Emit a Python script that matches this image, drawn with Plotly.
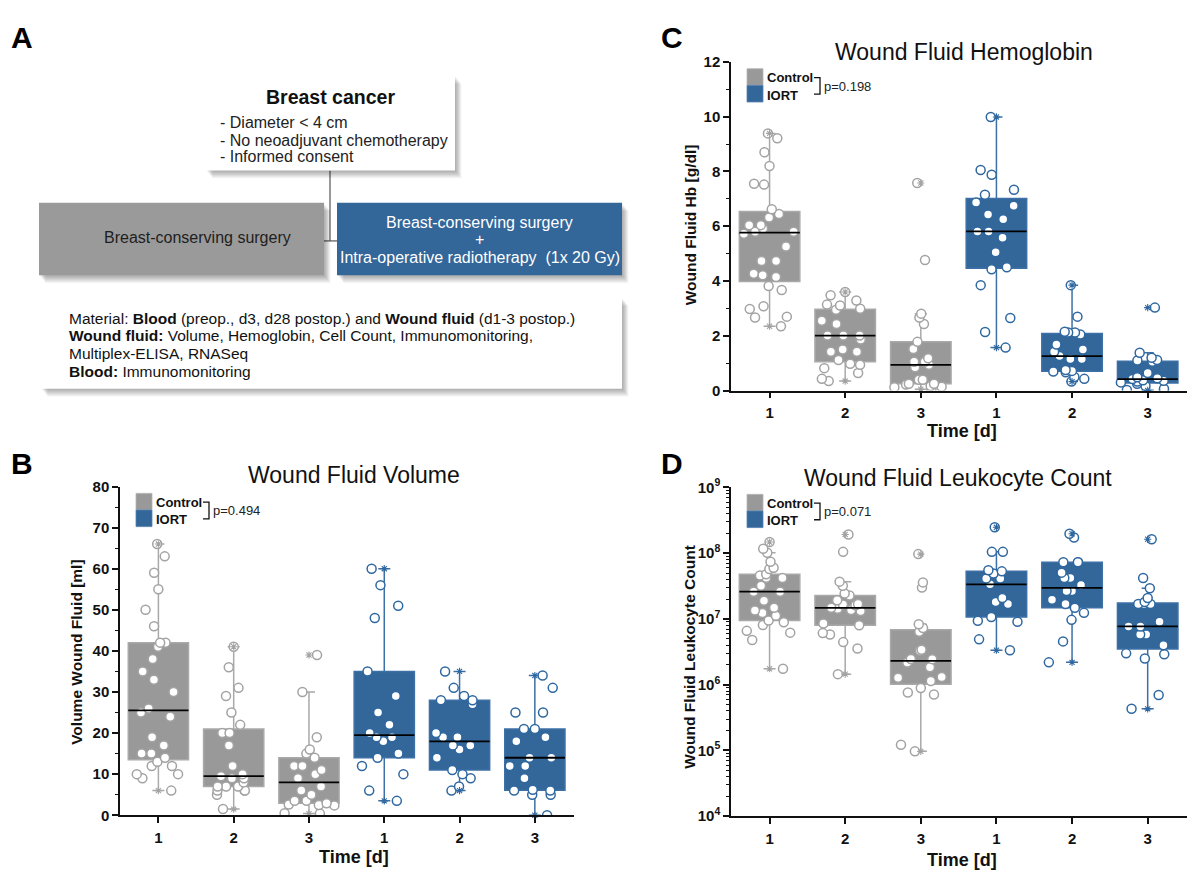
import numpy as np
import plotly.graph_objects as go

W, H = 1192, 880
FONT = "Liberation Sans, Arial, sans-serif"

# ---------------- data ----------------
time_labels = ["1", "2", "3", "1", "2", "3"]
group_names = ["Control", "IORT"]

# B: wound fluid volume [ml]
vol_ctrl_d1 = [66, 63, 59, 55, 50, 46, 42, 42, 41, 38, 35, 33, 30, 26, 25, 24, 19, 17, 15, 15, 14, 13, 12, 12, 10, 10, 9, 6]
vol_ctrl_d2 = [41, 36, 31, 29, 25, 22, 20, 20, 17, 12, 10, 9.5, 9, 9, 8, 7, 7, 7, 6, 6, 6, 5, 1.5]
vol_ctrl_d3 = [39, 30, 19, 16, 15, 14, 12, 12, 11, 10, 9, 7, 6, 5, 3.5, 3.5, 2.9, 2.6, 2.5, 2.4, 0.5, 0.4]
vol_iort_d1 = [60, 56, 51, 48, 35, 29, 25, 22, 20, 19, 19, 18, 15, 14, 12, 10, 6, 3.5]
vol_iort_d2 = [35, 31, 29, 28, 28, 27, 20, 19, 19, 17, 17, 16, 14, 11, 10, 9, 7, 6]
vol_iort_d3 = [34, 31, 25, 25, 21, 21, 19, 18, 14, 14, 12, 12, 9, 6.2, 6, 6, 5, 5, 0]

# C: wound fluid hemoglobin [g/dl]
hb_ctrl_d1 = [9.39, 9.21, 8.70, 8.20, 7.55, 7.52, 6.62, 6.45, 6.32, 6.04, 6.04, 5.92, 5.80, 5.80, 5.73, 5.26,
              4.73, 4.73, 4.27, 4.21, 4.15, 3.82, 3.67, 3.08, 2.98, 2.70, 2.67, 2.35]
hb_ctrl_d2 = [3.60, 3.48, 3.29, 3.14, 3.11, 2.99, 2.95, 2.55, 2.43, 2.01, 2.01, 2.01, 1.87, 1.50, 1.42, 1.42,
              1.12, 0.98, 0.94, 0.82, 0.64, 0.43, 0.35]
hb_ctrl_d3 = [7.58, 4.77, 2.81, 2.67, 2.43, 1.78, 1.52, 1.18, 1.05, 1.05, 0.94, 0.85, 0.40, 0.40, 0.25, 0.25,
              0.22, 0.17, 0.14, 0.12, 0.05]
hb_iort_d1 = [9.99, 8.05, 7.88, 7.33, 7.15, 6.87, 6.75, 6.43, 6.26, 5.81, 5.81, 5.58, 5.05, 4.50, 4.43, 3.85,
              2.65, 2.14, 1.57]
hb_iort_d2 = [3.85, 2.70, 2.15, 2.12, 2.12, 2.05, 1.68, 1.50, 1.42, 1.26, 1.15, 1.15, 0.75, 0.72, 0.70, 0.67,
              0.50, 0.43, 0.33]
hb_iort_d3 = [3.03, 1.38, 1.20, 1.12, 1.10, 1.05, 0.64, 0.49, 0.45, 0.42, 0.38, 0.36, 0.33, 0.30, 0.25, 0.17,
              0.07, 0.02, 0.01]

# D: wound fluid leukocyte count
wbc_ctrl_d1 = [1.48e8, 1.17e8, 1.02e8, 7.4e7, 6.0e7, 5.75e7, 4.8e7, 4.6e7, 4.25e7, 4.2e7, 3.2e7, 2.6e7, 2.6e7,
               1.9e7, 1.48e7, 1.35e7, 1.23e7, 1.12e7, 9.5e6, 8.9e6, 8.1e6, 6.6e6, 6.2e6, 4.8e6, 1.75e6]
wbc_ctrl_d2 = [1.93e8, 1.05e8, 3.7e7, 3.2e7, 2.45e7, 2.28e7, 1.92e7, 1.69e7, 1.66e7, 1.62e7, 1.48e7, 1.43e7,
               1.37e7, 1.32e7, 8.55e6, 8.05e6, 6.1e6, 5.8e6, 4.45e6, 3.55e6, 1.45e6]
wbc_ctrl_d3 = [9.7e7, 3.6e7, 3.0e7, 8.3e6, 7.3e6, 6.4e6, 3.4e6, 3.3e6, 2.46e6, 2.45e6, 2.17e6, 1.85e6, 1.31e6,
               1.28e6, 1.14e6, 8.9e5, 7.6e5, 7.1e5, 1.22e5, 9.7e4]
wbc_iort_d1 = [2.48e8, 1.05e8, 1.05e8, 5.5e7, 5.3e7, 4.9e7, 4.13e7, 4.13e7, 3.37e7, 2.08e7, 1.82e7, 1.69e7,
               1.07e7, 9.4e6, 9.1e6, 4.9e6, 3.35e6]
wbc_iort_d2 = [1.98e8, 1.73e8, 7.3e7, 7.3e7, 7.3e7, 5.07e7, 4.2e7, 4.2e7, 3.28e7, 2.67e7, 2.67e7, 1.96e7,
               1.69e7, 1.48e7, 1.24e7, 9.7e6, 4.56e6, 2.19e6]
wbc_iort_d3 = [1.63e8, 4.2e7, 2.93e7, 2.08e7, 1.82e7, 1.69e7, 1.69e7, 1.69e7, 9.1e6, 7.7e6, 7.7e6, 5.8e6,
               5.8e6, 4.0e6, 3.0e6, 2.9e6, 2.5e6, 7.0e5, 4.3e5]

p_vol, p_hb, p_wbc = "p=0.494", "p=0.198", "p=0.071"

# ---------------- styling ----------------
GRAY_FILL, GRAY_LINE, GRAY_PT = "#999999", "#a9a9a9", "#a3a3a3"
BLUE_FILL, BLUE_LINE, BLUE_PT = "#336699", "#3d70a6", "#2f68a0"


def px(x):
    return x / W


def py(y):
    return 1 - y / H


fig = go.Figure()
shapes = []
annotations = []


def text(x, y, s, size, color="#111111", bold=False, xanchor="center", angle=0):
    annotations.append(dict(
        x=px(x), y=py(y), xref="paper", yref="paper", text=s, showarrow=False,
        xanchor=xanchor, yanchor="middle", textangle=angle, borderpad=0,
        font=dict(family=FONT, size=size, color=color, weight="bold" if bold else "normal")))


def rect(x0, y0, x1, y1, fill, line_color=None, lw=0):
    shapes.append(dict(type="rect", xref="paper", yref="paper", x0=px(x0), x1=px(x1), y0=py(y1), y1=py(y0),
                       fillcolor=fill, line=dict(color=line_color or fill, width=lw)))


def shadow_box(x0, y0, x1, y1, fill):
    for k in range(8, 0, -1):
        rect(x0 + 0.8 * k, y0 + k, x1 + 0.8 * k, y1 + k, "rgba(0,0,0,0.045)")
    rect(x0, y0, x1, y1, fill)


def line(x0, y0, x1, y1, color="#555555", w=1.2):
    shapes.append(dict(type="line", xref="paper", yref="paper", x0=px(x0), x1=px(x1), y0=py(y0), y1=py(y1),
                       line=dict(color=color, width=w)))


# ---------------- panel A (flow chart) ----------------
text(22, 27, "A", 30, "#000000", True)
line(330, 163, 330, 235)
line(323, 235, 338, 235)
shadow_box(206, 66, 455, 163, "white")
text(331, 88, "Breast cancer", 19.5, "#111111", True)
text(219, 114, "- Diameter < 4 cm", 16, "#222222", xanchor="left")
text(219, 132, "- No neoadjuvant chemotherapy", 16, "#222222", xanchor="left")
text(219, 149, "- Informed consent", 16, "#222222", xanchor="left")
shadow_box(39, 196, 324, 270, "#9a9a9a")
text(197, 232, "Breast-conserving surgery", 16, "#1e1e1e")
shadow_box(337, 196, 622, 270, "#336699")
text(480, 216, "Breast-conserving surgery", 16, "white")
text(480, 234, "+", 16, "white")
text(480, 252, "Intra-operative radiotherapy  (1x 20 Gy)", 16, "white")
shadow_box(41, 293, 622, 386, "white")
text(68, 314, "Material: <b>Blood</b> (preop., d3, d28 postop.) and <b>Wound fluid</b> (d1-3 postop.)", 15.5,
     "#111111", xanchor="left")
text(68, 332, "<b>Wound fluid:</b> Volume, Hemoglobin, Cell Count, Immunomonitoring,", 15.5, "#111111",
     xanchor="left")
text(68, 350, "Multiplex-ELISA, RNASeq", 15.5, "#111111", xanchor="left")
text(68, 368, "<b>Blood:</b> Immunomonitoring", 15.5, "#111111", xanchor="left")

# ---------------- box panels ----------------
PANELS = {
    "B": dict(xa="x", ya="y", left=120, right=574, top=486, bottom=822),
    "C": dict(xa="x2", ya="y2", left=731, right=1187, top=52, bottom=388),
    "D": dict(xa="x3", ya="y3", left=731, right=1187, top=487, bottom=823),
}


def add_groups(panel, sets, offset, fill, lcol, pcol):
    P = PANELS[panel]
    xs, ys = [], []
    for k, vals in enumerate(sets):
        xs += [offset + k] * len(vals)
        ys += list(vals)
    common = dict(xaxis=P["xa"], yaxis=P["ya"], showlegend=False, hoverinfo="skip")
    fig.add_trace(go.Box(x=xs, y=ys, width=0.8, fillcolor=fill, line=dict(color=lcol, width=1.5),
                         whiskerwidth=0.2, boxpoints="outliers", quartilemethod="inclusive",
                         marker=dict(opacity=0, size=1), **common))
    ax, ay, mx, my = [], [], [], []
    for k, vals in enumerate(sets):
        ax += [offset + k] * 2
        ay += [min(vals), max(vals)]
        m = float(np.median(vals))
        mx += [offset + k - 0.4, offset + k + 0.4, None]
        my += [m, m, None]
    fig.add_trace(go.Scatter(x=ax, y=ay, mode="markers", cliponaxis=False,
                             marker=dict(symbol="asterisk-open", size=6, color=pcol,
                                         line=dict(color=pcol, width=1.1)),
                             **common))
    fig.add_trace(go.Scatter(x=mx, y=my, mode="lines", line=dict(color="black", width=1.8), **common))
    fig.add_trace(go.Box(x=xs, y=ys, width=0.8, boxpoints="all", jitter=0.9, pointpos=0,
                         fillcolor="rgba(0,0,0,0)", line=dict(color="rgba(0,0,0,0)", width=0), whiskerwidth=0,
                         marker=dict(color="white", size=9, line=dict(color=pcol, width=1.5)), **common))


def add_legend(panel, pval):
    P = PANELS[panel]
    L, T = P["left"], P["top"]
    rect(L + 16, T + 7, L + 32, T + 24, GRAY_FILL, "#b5b5b5", 0.8)
    rect(L + 16, T + 24, L + 32, T + 41, BLUE_FILL, "#5583b3", 0.8)
    text(L + 35, T + 16, "Control", 13, "#111111", True, "left")
    text(L + 35, T + 34, "IORT", 13, "#111111", True, "left")
    shapes.append(dict(type="path", xref="paper", yref="paper",
                       path=f"M {px(L + 83)} {py(T + 16)} L {px(L + 89)} {py(T + 16)} L {px(L + 89)} {py(T + 33)} "
                            f"L {px(L + 83)} {py(T + 33)}",
                       line=dict(color="#111111", width=1.3)))
    text(L + 92, T + 25, pval, 13, "#222222", False, "left")


sets_B = ([vol_ctrl_d1, vol_ctrl_d2, vol_ctrl_d3], [vol_iort_d1, vol_iort_d2, vol_iort_d3])
sets_C = ([hb_ctrl_d1, hb_ctrl_d2, hb_ctrl_d3], [hb_iort_d1, hb_iort_d2, hb_iort_d3])
sets_D = ([wbc_ctrl_d1, wbc_ctrl_d2, wbc_ctrl_d3], [wbc_iort_d1, wbc_iort_d2, wbc_iort_d3])

for pan, (ctrl, iort) in [("B", sets_B), ("C", sets_C), ("D", sets_D)]:
    add_groups(pan, ctrl, 0, GRAY_FILL, GRAY_LINE, GRAY_PT)
    add_groups(pan, iort, 3, BLUE_FILL, BLUE_LINE, BLUE_PT)

add_legend("B", p_vol)
add_legend("C", p_hb)
add_legend("D", p_wbc)

# titles / labels
text(354, 474, "Wound Fluid Volume", 23, "#111111")
text(964, 42, "Wound Fluid Hemoglobin", 23, "#111111")
text(958, 477, "Wound Fluid Leukocyte Count", 23, "#111111")
text(354, 865, "Time [d]", 18, "#111111", True)
text(962, 429, "Time [d]", 18, "#111111", True)
text(962, 868, "Time [d]", 18, "#111111", True)
text(77, 656, "Volume Wound Fluid [ml]", 15.5, "#111111", True, angle=-90)
text(690, 219, "Wound Fluid Hb [g/dl]", 15.5, "#111111", True, angle=-90)
text(690, 660, "Wound Fluid Leukocyte Count", 15.5, "#111111", True, angle=-90)
text(22, 462, "B", 30, "#000000", True)
text(672, 27, "C", 30, "#000000", True)
text(672, 462, "D", 30, "#000000", True)

tickfont = dict(family=FONT, size=15, color="#111111", weight="bold")
axis_common = dict(showline=True, linecolor="#111111", linewidth=1.5, ticks="outside", ticklen=6, tickwidth=1.5,
                   tickcolor="#111111", showgrid=False, zeroline=False, tickfont=tickfont, fixedrange=True)

layout_axes = {}
for name, P in PANELS.items():
    xkey = "xaxis" if P["xa"] == "x" else "xaxis" + P["xa"][1:]
    ykey = "yaxis" if P["ya"] == "y" else "yaxis" + P["ya"][1:]
    layout_axes[xkey] = dict(domain=[px(P["left"]), px(P["right"])], anchor=P["ya"],
                             range=[-0.51, 5.52], tickvals=list(range(6)), ticktext=time_labels,
                             ticklabelstandoff=2, **axis_common)
    ydom = [py(P["bottom"]), py(P["top"])]
    if name == "B":
        layout_axes[ykey] = dict(domain=ydom, anchor=P["xa"], range=[0, 80], dtick=10,
                                 minor=dict(dtick=5, ticks="outside", ticklen=3, tickwidth=1.2, tickcolor="#111111"),
                                 **axis_common)
    elif name == "C":
        layout_axes[ykey] = dict(domain=ydom, anchor=P["xa"], range=[0, 12], dtick=2,
                                 minor=dict(dtick=1, ticks="outside", ticklen=3, tickwidth=1.2, tickcolor="#111111"),
                                 **axis_common)
    else:
        decades = list(range(4, 10))
        minor_vals = [m * 10 ** d for d in range(4, 9) for m in range(2, 10)]
        layout_axes[ykey] = dict(domain=ydom, anchor=P["xa"], type="log", range=[4, 9],
                                 tickvals=[10 ** d for d in decades],
                                 ticktext=[f"10<sup>{d}</sup>" for d in decades],
                                 minor=dict(tickvals=minor_vals, ticks="outside", ticklen=3, tickwidth=1.0,
                                            tickcolor="#111111"),
                                 **axis_common)

fig.update_layout(width=W, height=H, margin=dict(l=0, r=0, t=0, b=0), plot_bgcolor="white",
                  paper_bgcolor="white", showlegend=False, boxmode="overlay",
                  shapes=shapes, annotations=annotations, **layout_axes)

fig.write_html("out.html", config={"displayModeBar": False},
               post_script="document.body.style.margin='0px';")
